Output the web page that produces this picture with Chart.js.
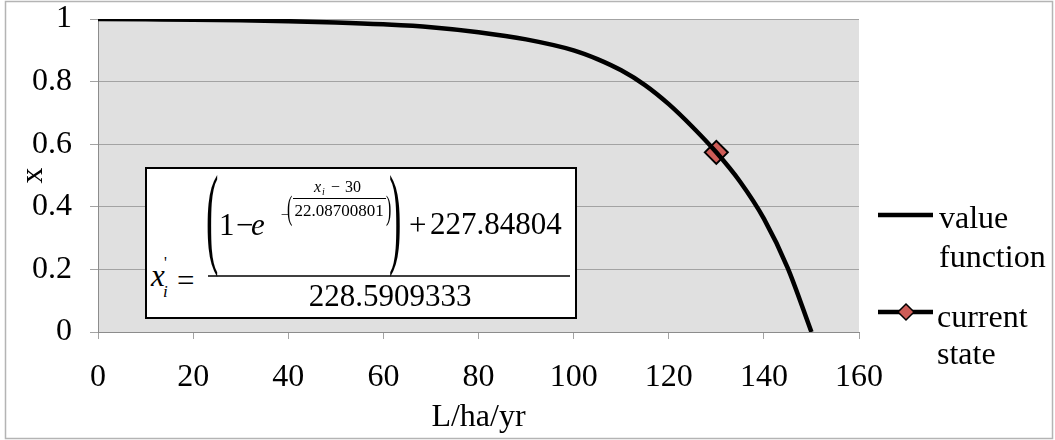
<!DOCTYPE html>
<html>
<head>
<meta charset="utf-8">
<script src="https://cdn.jsdelivr.net/npm/chart.js@4.4.1/dist/chart.umd.min.js"></script>
<style>
  html, body { margin: 0; padding: 0; background: #fff; }
  #wrap { position: relative; width: 1055px; height: 440px; }
  #eq { position: absolute; left: 0; top: 0; pointer-events: none; }
</style>
</head>
<body>
<div id="wrap">
  <canvas id="chart" width="1055" height="440"></canvas>
  <svg id="eq" width="1055" height="440" font-family="'Liberation Serif', 'Times New Roman', serif" fill="#000">
    <rect x="146" y="168" width="430" height="150" fill="#fff" stroke="#000" stroke-width="2"/>
    <text x="151" y="286" font-size="31" font-style="italic">x</text>
    <text x="164" y="268" font-size="16">'</text>
    <text x="163" y="297" font-size="17" font-style="italic">i</text>
    <text x="177" y="291" font-size="31">=</text>
    <text transform="translate(206 253) scale(1.2 3.65)" font-size="31">(</text>
    <text x="219" y="235" font-size="31">1</text>
    <text x="236" y="235" font-size="31">−</text>
    <text x="251" y="235" font-size="31" font-style="italic">e</text>
    <text x="281" y="219" font-size="14">−</text>
    <text transform="translate(287 219) scale(1 2.1)" font-size="16">(</text>
    <text x="314" y="192" font-size="16" font-style="italic">x</text>
    <text x="322" y="195" font-size="10" font-style="italic">i</text>
    <text x="331" y="192" font-size="16">−</text>
    <text x="345" y="192" font-size="16">30</text>
    <line x1="293" y1="198.5" x2="386" y2="198.5" stroke="#000" stroke-width="1"/>
    <text x="339" y="216" font-size="17" text-anchor="middle">22.08700801</text>
    <text transform="translate(386 219) scale(1 2.1)" font-size="16">)</text>
    <text transform="translate(389 253) scale(1.2 3.65)" font-size="31">)</text>
    <text x="409" y="235" font-size="31">+</text>
    <text x="430" y="234" font-size="31">227.84804</text>
    <line x1="208" y1="276" x2="570" y2="276" stroke="#000" stroke-width="1.5"/>
    <text x="390" y="306" font-size="31" text-anchor="middle">228.5909333</text>
  </svg>
</div>
<script>
// values
const loadValues = [0, 10, 20, 30, 40, 50, 60, 70, 80, 90, 100, 105, 110, 115, 120, 125, 130, 135, 140, 145, 150];
const valueFunction = [1.000, 0.999, 0.998, 0.996, 0.993, 0.989, 0.983, 0.974, 0.958, 0.935, 0.900, 0.872, 0.836, 0.789, 0.728, 0.655, 0.574, 0.480, 0.362, 0.205, 0.000];
const currentLoad = [130];
const currentValue = [0.574];
const xTicks = [0, 20, 40, 60, 80, 100, 120, 140, 160];
const yTicks = [0, 0.2, 0.4, 0.6, 0.8, 1];
const legendNames = [['value', 'function'], ['current', 'state']];

const serif = "'Liberation Serif', 'Times New Roman', serif";
const markerFill = '#cd5c57';

Chart.defaults.font.family = serif;
Chart.defaults.font.size = 32;
Chart.defaults.color = '#000';

const backdrop = {
    id: 'backdrop',
    beforeDraw(chart) {
        const ctx = chart.ctx;
        const a = chart.chartArea;
        ctx.save();
        ctx.fillStyle = '#e0e0e0';
        ctx.fillRect(a.left, a.top, a.right - a.left, a.bottom - a.top);
        ctx.strokeStyle = '#b4b4b4';
        ctx.lineWidth = 1.5;
        ctx.strokeRect(5.5, 1.5, 1047, 437);
        ctx.restore();
    }
};

const sideLegend = {
    id: 'sideLegend',
    afterDraw(chart) {
        const ctx = chart.ctx;
        ctx.save();
        ctx.strokeStyle = '#000';
        ctx.lineWidth = 4.5;
        ctx.beginPath();
        ctx.moveTo(878, 215);
        ctx.lineTo(933, 215);
        ctx.moveTo(878, 312);
        ctx.lineTo(933, 312);
        ctx.stroke();

        // diamond marker
        ctx.beginPath();
        ctx.moveTo(906, 304);
        ctx.lineTo(914, 312);
        ctx.lineTo(906, 320);
        ctx.lineTo(898, 312);
        ctx.closePath();
        ctx.fillStyle = markerFill;
        ctx.fill();
        ctx.lineWidth = 1.5;
        ctx.stroke();

        ctx.fillStyle = '#000';
        ctx.font = '32px ' + serif;
        ctx.textAlign = 'left';
        ctx.textBaseline = 'alphabetic';
        ctx.fillText(legendNames[0][0], 939, 228);
        ctx.fillText(legendNames[0][1], 939, 267);
        ctx.fillText(legendNames[1][0], 937, 327);
        ctx.fillText(legendNames[1][1], 937, 364);
        ctx.restore();
    }
};

new Chart(document.getElementById('chart'), {
    type: 'scatter',
    data: {
        datasets: [{
            label: 'value function',
            data: loadValues.map((x, i) => ({ x: x, y: valueFunction[i] })),
            showLine: true,
            borderColor: '#000',
            borderWidth: 4.5,
            pointRadius: 0,
            cubicInterpolationMode: 'monotone'
        }, {
            label: 'current state',
            data: currentLoad.map((x, i) => ({ x: x, y: currentValue[i] })),
            pointStyle: 'rectRot',
            pointRadius: 11.5,
            backgroundColor: markerFill,
            borderColor: '#000',
            borderWidth: 2
        }]
    },
    options: {
        responsive: false,
        animation: false,
        layout: { padding: { left: 0, right: 196, top: 19, bottom: 0 } },
        plugins: {
            legend: { display: false },
            tooltip: { enabled: false }
        },
        scales: {
            x: {
                type: 'linear',
                min: 0,
                max: 160,
                afterBuildTicks: s => { s.ticks = xTicks.map(v => ({ value: v })); },
                afterFit: s => { s.height = 108; },
                ticks: { padding: 19 },
                grid: { drawOnChartArea: false, tickLength: 7, color: '#a3a3a3' },
                border: { color: '#8c8c8c' },
                title: { display: true, text: 'L/ha/yr', padding: { top: 0, bottom: 3 } }
            },
            y: {
                min: 0,
                max: 1,
                afterBuildTicks: s => { s.ticks = yTicks.map(v => ({ value: v })); },
                afterFit: s => {
                    s.width = 98;
                    s.paddingTop = 0;
                    s.paddingBottom = 0;
                },
                ticks: { padding: 18, callback: v => String(v) },
                grid: { tickLength: 8, color: '#a3a3a3' },
                border: { color: '#8c8c8c' },
                title: { display: true, text: 'x', padding: { top: 14, bottom: 0 } }
            }
        }
    },
    plugins: [backdrop, sideLegend]
});
</script>
</body>
</html>
